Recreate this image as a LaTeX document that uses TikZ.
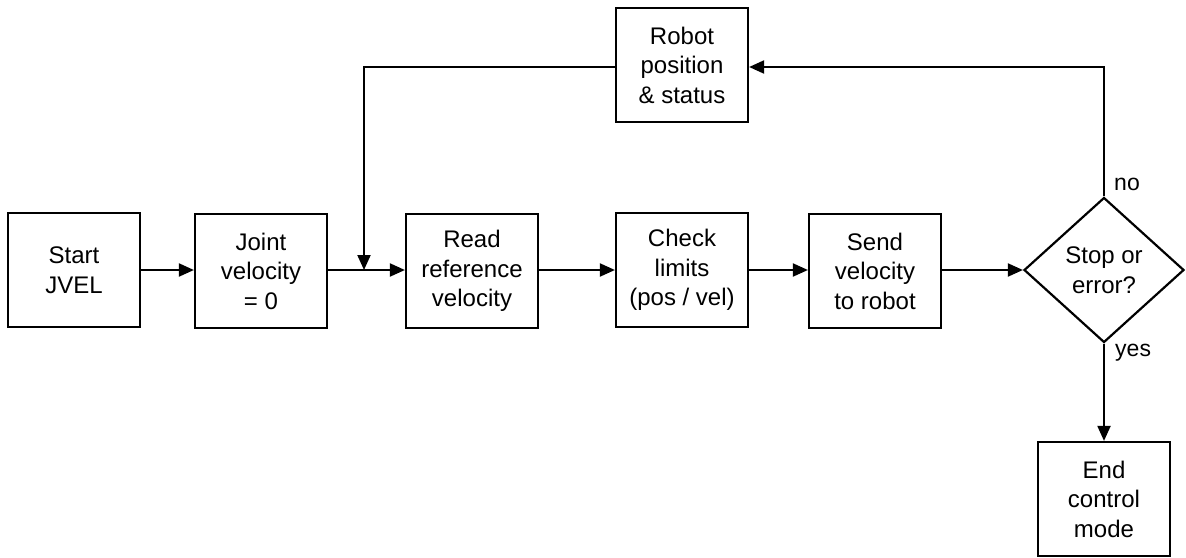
\documentclass[tikz,border=0pt]{standalone}
\usepackage{fontspec}
\setmainfont{Liberation Sans}
\usetikzlibrary{arrows.meta,shapes.geometric}
\begin{document}
\begin{tikzpicture}[x=1pt,y=-1pt,
  box/.style={draw,line width=2.2pt,minimum width=132pt,minimum height=114pt,inner sep=0pt,align=center,font=\fontsize{24}{29.5}\selectfont},
  dec/.style={draw,diamond,line width=2.2pt,minimum width=160pt,minimum height=145pt,inner sep=0pt,align=center,font=\fontsize{24}{29.5}\selectfont},
  conn/.style={line width=2pt,-{Triangle[length=15pt,width=13pt]}},
  lbl/.style={font=\fontsize{23}{26}\selectfont,inner sep=0pt,anchor=west}]
\useasboundingbox (0,0) rectangle (1186,557);
\node[box] (start) at (74,270) {Start\\JVEL};
\node[box] (joint) at (261,271) {Joint\\velocity\\= 0};
\node[box] (read) at (472,271) {Read\\reference\\velocity};
\node[box] (check) at (682,270) {Check\\limits\\(pos / vel)};
\node[box] (send) at (875,271) {Send\\velocity\\to robot};
\node[dec] (stop) at (1104,270) {Stop or\\error?};
\node[box] (end) at (1104,499) {End\\control\\mode};
\node[box] (robot) at (682,65) {Robot\\position\\\& status};
\coordinate (merge) at (364,270);
\draw[conn] (start.east) -- (joint.west |- start.east);
\draw[conn] (joint.east |- merge) -- (read.west |- merge);
\draw[conn] (read.east |- check) -- (check.west);
\draw[conn] (check.east) -- (send.west |- check);
\draw[conn] (send.east |- stop) -- (stop.west);
\draw[conn] (stop.south) -- (end.north);
\draw[conn] (stop.north) |- (robot.east |- 0,67);
\draw[conn] (robot.west |- 0,67) -| (merge);
\node[lbl] (no) at (1114,184) {no};
\node[lbl] (yes) at (1115,353) {yes};
\end{tikzpicture}
\end{document}
